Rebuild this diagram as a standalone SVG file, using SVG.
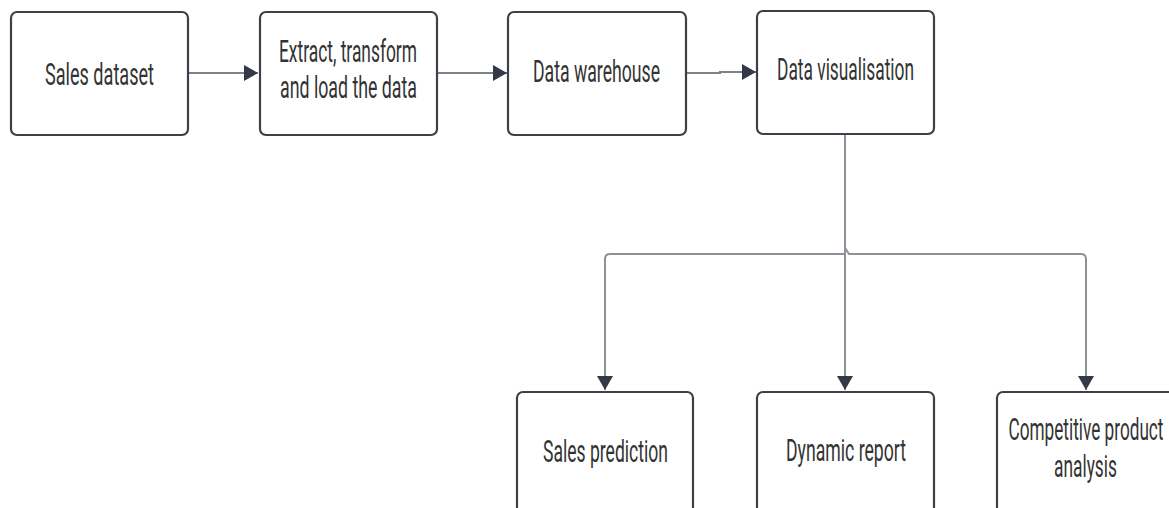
<svg xmlns="http://www.w3.org/2000/svg" width="1169" height="508" viewBox="0 0 1169 508">
<style>
.box{fill:#ffffff;stroke:#3b4049;stroke-width:2.2}
.lbl{font-family:Roboto,"Liberation Sans",sans-serif;font-size:31px;fill:#333333;text-anchor:middle}
.con{fill:none;stroke:#7d828a;stroke-width:2.2}
.conv{fill:none;stroke:#8d9198;stroke-width:2}
</style>
<defs>
<marker id="ah" viewBox="0 0 14 16" refX="14" refY="8" markerWidth="14" markerHeight="16" markerUnits="userSpaceOnUse" orient="auto">
<path d="M0,0 L14,8 L0,16 Z" fill="#343a45"/>
</marker>
</defs>
<rect width="1169" height="508" fill="#ffffff"/>
<g id="connectors">
<path class="con" d="M188,73 H258" marker-end="url(#ah)"/>
<path class="con" d="M437,73 H507" marker-end="url(#ah)"/>
<path class="con" d="M686,73 H720 V72 H756" marker-end="url(#ah)"/>
<path class="conv" d="M845,134 V254 H610 Q605,254 605,259 V390" marker-end="url(#ah)"/>
<path class="conv" d="M845,134 V248 Q845,248 849,254 H1081 Q1086,254 1086,259 V390" marker-end="url(#ah)"/>
<path class="conv" d="M845,134 V390" marker-end="url(#ah)"/>
</g>
<g id="n1">
<rect class="box" x="11" y="12" width="177" height="123" rx="6"/>
<text class="lbl" x="99.5" y="85" textLength="109" lengthAdjust="spacingAndGlyphs">Sales dataset</text>
</g>
<g id="n2">
<rect class="box" x="260" y="12" width="177" height="123" rx="6"/>
<text class="lbl" x="348" y="62" textLength="138" lengthAdjust="spacingAndGlyphs">Extract, transform</text>
<text class="lbl" x="348.5" y="98" textLength="137" lengthAdjust="spacingAndGlyphs">and load the data</text>
</g>
<g id="n3">
<rect class="box" x="508" y="12" width="178" height="123" rx="6"/>
<text class="lbl" x="596.5" y="82" textLength="127" lengthAdjust="spacingAndGlyphs">Data warehouse</text>
</g>
<g id="n4">
<rect class="box" x="757" y="11" width="177" height="123" rx="6"/>
<text class="lbl" x="845.5" y="80" textLength="137" lengthAdjust="spacingAndGlyphs">Data visualisation</text>
</g>
<g id="n5">
<rect class="box" x="517" y="392" width="176" height="130" rx="6"/>
<text class="lbl" x="605.5" y="462" textLength="125" lengthAdjust="spacingAndGlyphs">Sales prediction</text>
</g>
<g id="n6">
<rect class="box" x="757" y="392" width="177" height="130" rx="6"/>
<text class="lbl" x="846" y="461" textLength="120" lengthAdjust="spacingAndGlyphs">Dynamic report</text>
</g>
<g id="n7">
<rect class="box" x="997" y="392" width="178" height="130" rx="6"/>
<text class="lbl" x="1086" y="440" textLength="155" lengthAdjust="spacingAndGlyphs">Competitive product</text>
<text class="lbl" x="1085.5" y="477" textLength="63" lengthAdjust="spacingAndGlyphs">analysis</text>
</g>
</svg>
